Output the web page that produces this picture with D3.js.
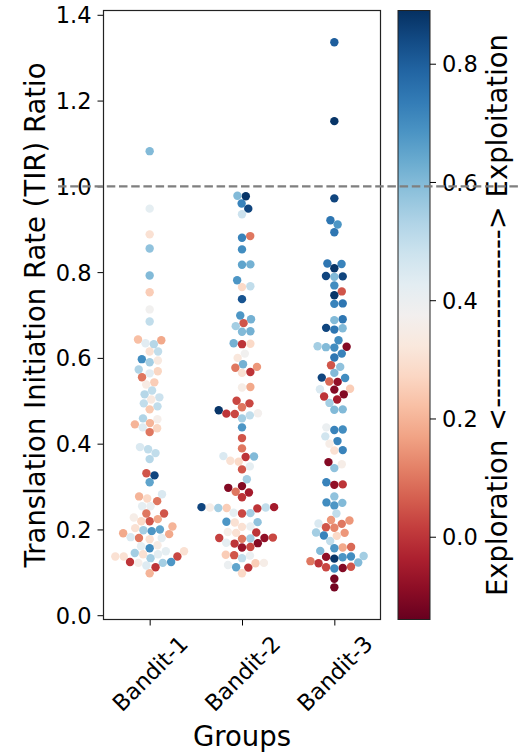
<!DOCTYPE html>
<html>
<head>
<meta charset="utf-8">
<script src="https://cdn.jsdelivr.net/npm/d3@7"></script>
<style>
  body { margin: 0; background: #fff; }
  text { font-family: "DejaVu Sans", sans-serif; fill: #000; }
</style>
</head>
<body>
<div id="canvas"></div>
<script>
const groups = ["Bandit-1", "Bandit-2", "Bandit-3"];

// TIR ratio + exploitation score, one pair of arrays per group
const bandit1Tir = [1.082, 0.948, 0.888, 0.855, 0.792, 0.753, 0.713, 0.685, 0.634, 0.632, 0.641, 0.643,
  0.615, 0.615, 0.597, 0.590, 0.594, 0.569, 0.573, 0.564, 0.555, 0.543, 0.538, 0.524, 0.515, 0.508, 0.503,
  0.487, 0.494, 0.480, 0.459, 0.457, 0.445, 0.448, 0.436, 0.438, 0.427, 0.392, 0.387, 0.378, 0.364, 0.326,
  0.331, 0.310, 0.282, 0.277, 0.272, 0.266, 0.254, 0.254, 0.237, 0.237, 0.228, 0.219, 0.219, 0.224, 0.207,
  0.203, 0.198, 0.200, 0.191, 0.196, 0.180, 0.189, 0.182, 0.180, 0.177, 0.163, 0.161, 0.156, 0.145, 0.142,
  0.137, 0.137, 0.137, 0.142, 0.149, 0.149, 0.124, 0.122, 0.122, 0.124, 0.133, 0.112, 0.116, 0.098];
const bandit1Score = [0.6, 0.42, 0.3, 0.58, 0.6, 0.25, 0.38, 0.5, 0.43, 0.52, 0.18, 0.22,
  0.3, 0.5, 0.7, 0.55, 0.33, 0.27, 0.53, 0.43, 0.1, 0.25, 0.34, 0.5, 0.52, 0.48, 0.33,
  0.5, 0.5, 0.24, 0.53, 0.36, 0.2, 0.2, 0.27, 0.44, 0.1, 0.45, 0.5, 0.5, 0.52, 0.85,
  0.05, 0.65, 0.45, 0.2, 0.28, 0.1, 0.4, 0.42, 0.1, 0.05, 0.35, 0.05, 0.28, 0.18, 0.2,
  0.3, 0.55, 0.65, 0.18, 0.68, 0.1, 0.18, 0.45, 0.42, 0.3, 0.34, 0.42, 0.7, 0.55, 0.3,
  0.3, 0.03, 0.3, 0.42, 0.42, 0.3, 0.0, 0.36, 0.55, 0.68, 0.55, 0.0, 0.44, 0.2];

const bandit2Tir = [0.977, 0.978, 0.960, 0.948, 0.935, 0.884, 0.880, 0.853, 0.818, 0.817, 0.781, 0.767,
  0.765, 0.737, 0.699, 0.690, 0.681, 0.674, 0.662, 0.661, 0.634, 0.632, 0.633, 0.610, 0.600, 0.585, 0.579,
  0.577, 0.567, 0.565, 0.532, 0.531, 0.500, 0.494, 0.485, 0.478, 0.471, 0.470, 0.469, 0.466, 0.459, 0.438,
  0.413, 0.389, 0.370, 0.369, 0.371, 0.360, 0.358, 0.347, 0.340, 0.317, 0.301, 0.297, 0.288, 0.286, 0.275,
  0.252, 0.251, 0.250, 0.252, 0.249, 0.251, 0.250, 0.238, 0.237, 0.239, 0.217, 0.218, 0.216, 0.207, 0.206,
  0.193, 0.194, 0.192, 0.180, 0.181, 0.179, 0.180, 0.178, 0.168, 0.167, 0.169, 0.159, 0.158, 0.140, 0.141,
  0.139, 0.133, 0.121, 0.122, 0.117, 0.112, 0.111, 0.098];
const bandit2Score = [0.88, 0.6, 0.72, 0.85, 0.48, 0.1, 0.72, 0.7, 0.62, 0.65, 0.68, 0.5,
  0.28, 0.82, 0.68, 0.62, 0.05, 0.55, 0.62, 0.6, 0.62, 0.0, 0.28, 0.38, 0.32, 0.62, 0.15,
  0.1, 0.0, 0.3, 0.18, 0.35, 0.03, 0.03, 0.1, 0.88, 0.37, 0.0, 0.03, 0.5, 0.55, 0.68,
  0.05, 0.1, 0.6, 0.0, 0.45, 0.3, 0.28, 0.42, 0.05, 0.55, -0.1, -0.1, 0.1, -0.05, 0.0,
  -0.05, 0.5, 0.25, 0.85, 0.0, 0.35, 0.55, 0.55, 0.03, 0.42, 0.58, 0.68, 0.3, 0.4, 0.3,
  0.0, 0.35, 0.3, -0.08, 0.03, 0.55, 0.02, 0.1, -0.1, 0.0, 0.42, 0.03, -0.07, 0.05, 0.25,
  0.4, 0.5, 0.25, 0.35, 0.4, 0.65, 0.0, 0.28];

const bandit3Tir = [1.336, 1.152, 0.972, 0.921, 0.911, 0.893, 0.820, 0.819, 0.809, 0.790, 0.789, 0.791,
  0.769, 0.755, 0.746, 0.727, 0.726, 0.690, 0.688, 0.670, 0.669, 0.666, 0.641, 0.626, 0.625, 0.624, 0.627,
  0.610, 0.601, 0.583, 0.579, 0.565, 0.554, 0.553, 0.545, 0.544, 0.528, 0.527, 0.526, 0.515, 0.510, 0.503,
  0.495, 0.480, 0.479, 0.438, 0.433, 0.432, 0.417, 0.406, 0.400, 0.385, 0.384, 0.357, 0.352, 0.343, 0.310,
  0.305, 0.304, 0.277, 0.263, 0.262, 0.256, 0.237, 0.222, 0.221, 0.214, 0.213, 0.205, 0.204, 0.193, 0.192,
  0.186, 0.185, 0.173, 0.159, 0.158, 0.156, 0.150, 0.138, 0.136, 0.135, 0.137, 0.132, 0.126, 0.123, 0.121,
  0.112, 0.110, 0.113, 0.109, 0.085, 0.065];
const bandit3Score = [0.8, 0.88, 0.85, 0.75, 0.68, 0.75, 0.75, 0.72, 0.88, 0.85, 0.6, 0.85,
  0.7, 0.05, 0.88, 0.75, 0.72, 0.75, 0.6, 0.85, 0.6, 0.75, 0.7, -0.1, 0.6, 0.7, 0.55,
  0.72, 0.75, 0.05, 0.58, 0.6, 0.85, 0.7, 0.08, -0.08, 0.25, 0.45, -0.1, -0.1, 0.0, -0.05,
  0.55, 0.6, 0.6, 0.4, 0.7, 0.72, 0.47, 0.72, 0.35, 0.72, 0.3, -0.1, 0.35, 0.58, 0.72,
  0.0, -0.08, 0.58, 0.7, 0.6, 0.68, 0.5, 0.15, 0.15, 0.45, 0.1, 0.05, 0.12, 0.55, 0.15,
  0.72, 0.28, 0.5, 0.08, 0.18, 0.68, 0.6, 0.55, -0.08, 0.68, 0.7, 0.88, 0.1, 0.6, 0.0,
  0.03, -0.1, 0.05, 0.7, -0.12, -0.12];

const yTicks = [0.0, 0.2, 0.4, 0.6, 0.8, 1.0, 1.2, 1.4];
const cbarTicks = [0.0, 0.2, 0.4, 0.6, 0.8];
const scoreRange = [-0.14, 0.89];
const refLine = 1.0;

const tirByGroup = [bandit1Tir, bandit2Tir, bandit3Tir];
const scoreByGroup = [bandit1Score, bandit2Score, bandit3Score];

const W = 520, H = 753;
const ax = { left: 103.5, right: 380.5, top: 10.5, bottom: 619.5 };
const cb = { left: 398, right: 430, top: 10.5, bottom: 619.5 };
const dotR = 4.2;

const svg = d3.select("#canvas").append("svg")
  .attr("width", W).attr("height", H);

const x = d3.scalePoint().domain(groups).range([ax.left, ax.right]).padding(0.5);
const y = d3.scaleLinear().domain([-0.01, 1.41]).range([ax.bottom, ax.top]);
const color = d3.scaleSequential(d3.interpolateRdBu).domain(scoreRange);

// seaborn-like swarm: sorted by value, each dot goes as close to the centre as it can
function swarm(vals) {
  const d = dotR * 2;
  const pts = vals.map((v, i) => ({ i, py: y(v), dx: 0 }))
    .sort((a, b) => b.py - a.py);
  const placed = [];
  pts.forEach(p => {
    const near = placed.filter(q => Math.abs(q.py - p.py) < d);
    const cands = [0];
    near.forEach(q => {
      const off = Math.sqrt(d * d - (q.py - p.py) ** 2);
      cands.push(q.dx + off, q.dx - off);
    });
    cands.sort((a, b) => Math.abs(a) - Math.abs(b));
    for (const c of cands) {
      const ok = near.every(q => (q.dx - c) ** 2 + (q.py - p.py) ** 2 >= d * d - 1e-6);
      if (ok) { p.dx = c; break; }
    }
    placed.push(p);
  });
  const out = [];
  pts.forEach(p => { out[p.i] = p.dx; });
  return out;
}

const dots = svg.append("g");
groups.forEach((g, gi) => {
  const tir = tirByGroup[gi];
  const sc = scoreByGroup[gi];
  const offs = swarm(tir);
  dots.selectAll(null)
    .data(tir.map((v, i) => ({ v, s: sc[i], dx: offs[i] })))
    .enter().append("circle")
    .attr("cx", d => x(g) + d.dx)
    .attr("cy", d => y(d.v))
    .attr("r", dotR)
    .attr("fill", d => color(d.s));
});

// axes
const yAxis = svg.append("g")
  .attr("transform", `translate(${ax.left},0)`)
  .call(d3.axisLeft(y).tickValues(yTicks).tickFormat(d3.format(".1f")).tickSizeOuter(0).tickSize(6).tickPadding(6));
yAxis.select(".domain").remove();
yAxis.selectAll("text").style("font-size", "22.5px").attr("dy", "0.36em");
yAxis.selectAll("line").attr("stroke", "#000").attr("stroke-width", 1);

const xAxis = svg.append("g")
  .attr("transform", `translate(0,${ax.bottom})`)
  .call(d3.axisBottom(x).tickSize(6).tickSizeOuter(0));
xAxis.select(".domain").remove();
xAxis.selectAll("text")
  .style("font-size", "22.5px")
  .attr("text-anchor", "middle")
  .attr("dy", "0.35em")
  .attr("x", 0).attr("y", 0)
  .attr("transform", "translate(0,54) rotate(-45)");

svg.append("rect")
  .attr("x", ax.left).attr("y", ax.top)
  .attr("width", ax.right - ax.left).attr("height", ax.bottom - ax.top)
  .attr("fill", "none").attr("stroke", "#222").attr("stroke-width", 1.2);

svg.append("text")
  .attr("transform", `translate(45,${(ax.top + ax.bottom) / 2}) rotate(-90)`)
  .attr("text-anchor", "middle")
  .style("font-size", "27.5px")
  .text("Translation Initiation Rate (TIR) Ratio");

svg.append("text")
  .attr("x", (ax.left + ax.right) / 2).attr("y", 746)
  .attr("text-anchor", "middle")
  .style("font-size", "27.5px")
  .text("Groups");

// colour bar
const cy = d3.scaleLinear().domain(scoreRange).range([cb.bottom, cb.top]);
const grad = svg.append("defs").append("linearGradient")
  .attr("id", "cbar").attr("x1", 0).attr("y1", 1).attr("x2", 0).attr("y2", 0);
d3.range(0, 1.0001, 0.05).forEach(t => {
  grad.append("stop").attr("offset", t)
    .attr("stop-color", color(scoreRange[0] + t * (scoreRange[1] - scoreRange[0])));
});
svg.append("rect")
  .attr("x", cb.left).attr("y", cb.top)
  .attr("width", cb.right - cb.left).attr("height", cb.bottom - cb.top)
  .attr("fill", "url(#cbar)").attr("stroke", "#222").attr("stroke-width", 1);

const cAxis = svg.append("g")
  .attr("transform", `translate(${cb.right},0)`)
  .call(d3.axisRight(cy).tickValues(cbarTicks).tickFormat(d3.format(".1f")).tickSize(6).tickPadding(6));
cAxis.select(".domain").remove();
cAxis.selectAll("text").style("font-size", "22.5px").attr("dy", "0.36em");

svg.append("text")
  .attr("transform", `translate(507,${(cb.top + cb.bottom) / 2}) rotate(-90)`)
  .attr("text-anchor", "middle")
  .style("font-size", "27.5px")
  .text("Exploration <------------------> Exploitation");

// reference line at ratio 1.0
svg.append("line")
  .attr("x1", 58).attr("x2", W)
  .attr("y1", y(refLine)).attr("y2", y(refLine))
  .attr("stroke", "#7f7f7f").attr("stroke-width", 2.2)
  .attr("stroke-dasharray", "8.5,3.7");
</script>
</body>
</html>
